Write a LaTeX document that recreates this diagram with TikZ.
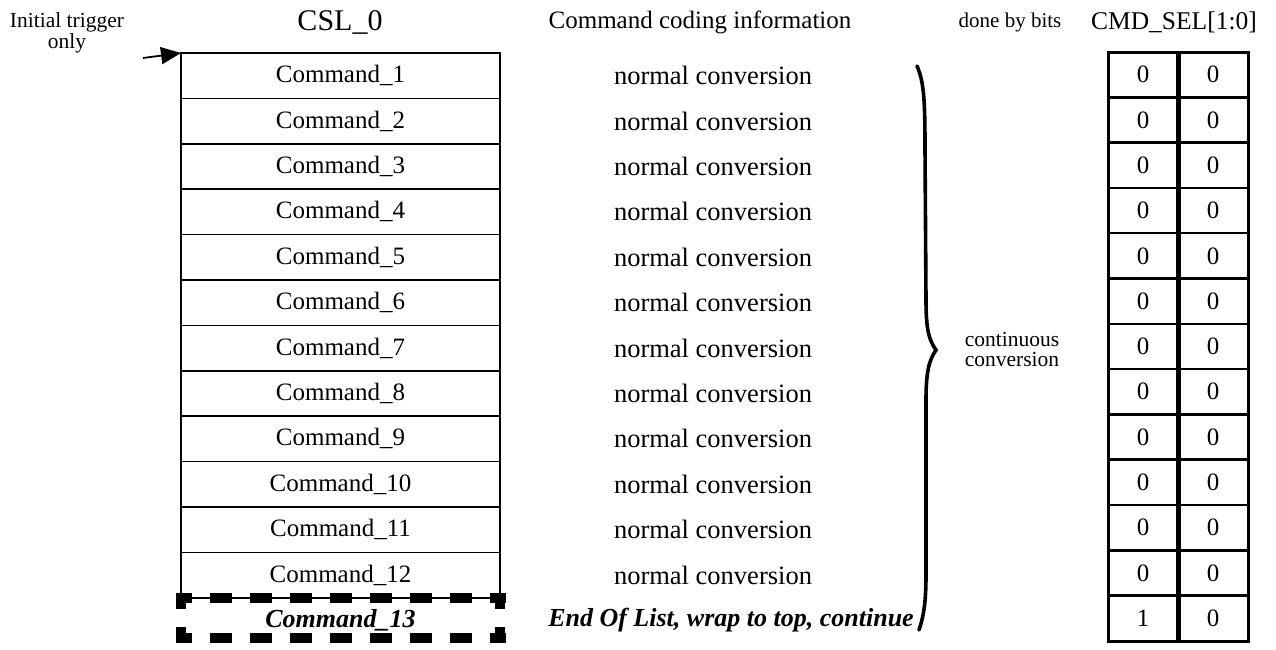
\documentclass[tikz,border=0pt]{standalone}
\usepackage{fontspec}
\setmainfont{Liberation Serif}
\usetikzlibrary{arrows.meta}
\tikzset{
  txt/.style={inner sep=0pt, anchor=center, font=\fontsize{25}{28}\selectfont},
  conv/.style={inner sep=0pt, anchor=center, font=\fontsize{26.5}{28}\selectfont},
  hdr/.style={inner sep=0pt, anchor=center, font=\fontsize{30}{34}\selectfont},
  small/.style={inner sep=0pt, anchor=center, font=\fontsize{21}{21}\selectfont, align=center},
  bi/.style={inner sep=0pt, anchor=center, font=\fontsize{26}{28}\selectfont\bfseries\itshape},
  dashhz/.style={line width=10pt, dash pattern=on 22pt off 18pt, dash phase=6pt},
  dashvt/.style={line width=10pt, dash pattern=on 22pt off 18pt, dash phase=11pt},
}
\begin{document}
\begin{tikzpicture}[x=1pt,y=-1pt]
\useasboundingbox (0,0) rectangle (1276,649);
\def\rh{45.4}
% headers
\node[hdr] (hcsl) at (340,22) {CSL\_0};
\node[txt] (hcode) at (700,22) {Command coding information};
\node[small] (hdone) at (1010,22) {done by bits};
\node[hdr, font=\fontsize{25.5}{28}\selectfont] (hsel) at (1174,22) {CMD\_SEL[1:0]};
\node[small, font=\fontsize{21.5}{19}\selectfont] (trig) at (67,33) {Initial trigger\\only};
% left box
\coordinate (tl) at (181,53);
\coordinate (tr) at (500,53);
\foreach \k in {1,...,12}{
  \node[txt] (cmd\k) at (340.5,{53+\rh*(\k-0.5)}) {Command\_\k};
  \node[conv] (nc\k) at (713,{53+\rh*(\k-0.5)}) {normal conversion};
}
\foreach \k in {1,...,11}{
  \draw[line width=1.5pt] (181,{53+\rh*\k}) -- (500,{53+\rh*\k});
}
\coordinate (bl) at (181,598);
\coordinate (br) at (500,598);
\draw[line width=1.5pt] (bl) -- (br);
\draw[line width=2.5pt, line cap=rect] (bl) -- (tl) -- (tr) -- (br);
% dashed row 13
\coordinate (dbl) at (181,638);
\coordinate (dbr) at (500,638);
\draw[dashhz] (175.5,598) -- (505.5,598);
\draw[dashhz] (175.5,638) -- (505.5,638);
\draw[dashvt] (bl) -- (dbl);
\draw[dashvt] (br) -- (dbr);
\node[bi] (cmd13) at (340.5,620) {Command\_13};
\node[bi] (eol) at (731,620) {End Of List, wrap to top, continue};
% arrow
\coordinate (astart) at (143,58);
\draw[line width=1.8pt, -{Triangle[length=20pt,width=17pt]}] (astart) -- (tl);
% brace
\draw[line width=3.6pt, line cap=round]
 (917,66) .. controls (924,82) and (925,100) .. (925,150) -- (926,300)
 .. controls (926,330) and (929,340) .. (936,350)
 .. controls (929,360) and (926,372) .. (926,400) -- (926,575)
 .. controls (926,605) and (923,618) .. (919,630);
\node[small, font=\fontsize{21.5}{20}\selectfont] (cont) at (1012,349) {continuous\\conversion};
% right table
\foreach \k in {1,...,12}{
  \node[txt] (a\k) at (1143,{52+45.3*(\k-0.5)}) {0};
  \node[txt] (b\k) at (1213,{52+45.3*(\k-0.5)}) {0};
}
\node[txt] (a13) at (1143,{52+45.3*12.5}) {1};
\node[txt] (b13) at (1213,{52+45.3*12.5}) {0};
\foreach \k in {1,...,12}{
  \draw[line width=2.5pt] (1108,{52+45.3*\k}) -- (1248,{52+45.3*\k});
}
\draw[line width=3pt] (1108,52) rectangle (1248,641);
\draw[line width=5pt] (1178,52) -- (1178,641);
\end{tikzpicture}
\end{document}
